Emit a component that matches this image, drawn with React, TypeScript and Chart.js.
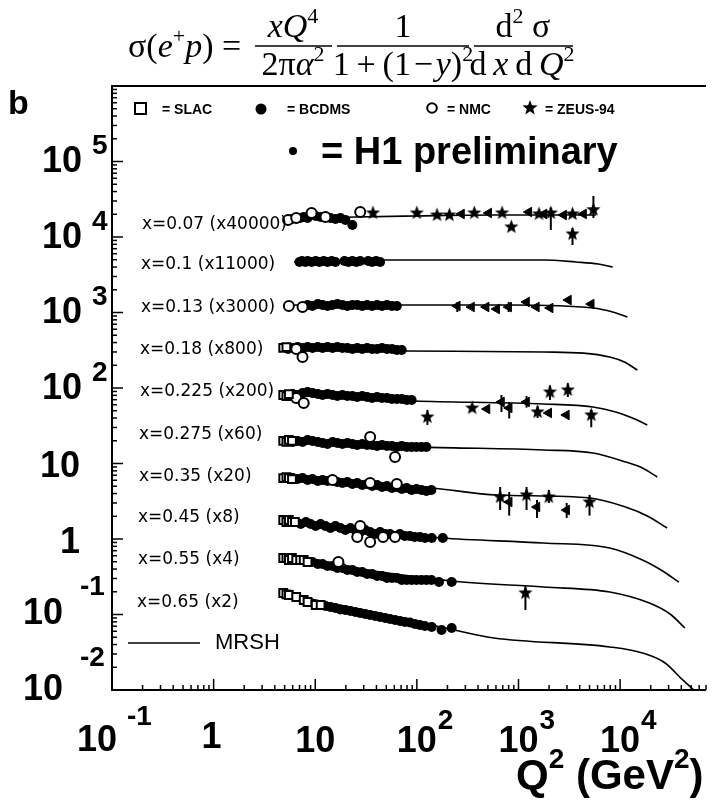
import React, { useEffect, useRef } from "react";
import { Chart, registerables } from "chart.js";
Chart.register(...registerables);

type P = [number, number];
type E = [number, number, number, number];

// ---------- data ----------
const rowLabels = [
  "x=0.07 (x40000)", "x=0.1 (x11000)", "x=0.13 (x3000)", "x=0.18 (x800)", "x=0.225 (x200)",
  "x=0.275 (x60)", "x=0.35 (x20)", "x=0.45 (x8)", "x=0.55 (x4)", "x=0.65 (x2)",
];

const mrshCurves: P[][] = [
  [[5.4, 17320], [24.8, 18400], [95, 18970], [575, 19560], [5770, 19560]],
  [[6.2, 4665], [41.6, 4955], [1760, 4955], [3690, 4665], [6100, 4390], [8450, 4010]],
  [[5.2, 1257], [65, 1257], [840, 1257], [5400, 1147], [8450, 1015], [11800, 871]],
  [[4.84, 319], [76, 309], [1760, 300], [4365, 290], [7900, 257], [11000, 221], [14800, 173]],
  [[4.84, 80.8], [95, 67.3], [1760, 61.4], [5400, 56.0], [9040, 48.1], [13200, 40.1], [18500, 32.4]],
  [[4.84, 19.9], [120, 16.5], [1760, 15.1], [5400, 13.8], [11300, 10.5], [16600, 8.72], [23200, 6.62]],
  [[4.84, 6.42], [140, 4.74], [614, 3.83], [5050, 3.49], [11300, 2.65], [18500, 2.02], [29000, 1.4]],
  [[4.84, 1.63], [175, 1.031], [1760, 0.885], [7900, 0.76], [16600, 0.527], [26200, 0.377], [37900, 0.269]],
  [[4.84, 0.56], [219, 0.278], [1760, 0.231], [7900, 0.1985], [19400, 0.1419], [31000, 0.1015], [43400, 0.0663]],
  [[4.84, 0.193], [234, 0.0623], [575, 0.0489], [7900, 0.0372], [16600, 0.0309], [27700, 0.0228], [41300, 0.0136], [53100, 0.01]],
];

const slacPts: P[] = [
  [4.84, 339], [5.2, 349],
  [4.84, 80.8], [5.2, 78.3], [5.5, 83.2],
  [4.84, 19.9], [5.2, 19.3], [5.5, 20.5], [5.9, 19.9],
  [4.84, 6.42], [5.2, 6.62], [5.5, 6.42], [5.9, 6.23],
  [4.84, 1.785], [5.2, 1.68], [5.5, 1.785], [5.9, 1.68], [6.3, 1.68],
  [4.84, 0.56], [5.2, 0.56], [5.5, 0.527], [5.9, 0.56], [6.5, 0.527], [7.1, 0.527], [7.7, 0.527], [8.4, 0.496],
  [4.84, 0.1927], [5.2, 0.185], [5.5, 0.1813], [6.5, 0.1705], [7.7, 0.1556], [8.4, 0.1464], [10.1, 0.1336], [11.3, 0.1336],
];

const bcdmsPts: P[] = [
  // x=0.07
  [5.9, 17320], [7.1, 17850], [7.7, 18400], [8.4, 17850], [10.1, 18970], [11.3, 18400], [14.1, 17850],
  [15.8, 17320], [17.7, 17850], [19.8, 16800], [23.2, 14420],
  // x=0.1
  [7.0, 4665], [7.4, 4810], [8.0, 4665], [8.4, 4810], [9.2, 4665], [10.1, 4810], [11.0, 4665], [12.1, 4810],
  [13.2, 4665], [14.5, 4810], [15.8, 4665], [19.4, 4810], [21.2, 4665], [23.2, 4810], [25.4, 4665],
  [27.7, 4810], [33.2, 4810], [36.3, 4665], [39.7, 4810], [43.5, 4665],
  // x=0.13
  [8.4, 1257], [9.4, 1219], [10.6, 1296], [11.8, 1257], [13.2, 1219], [14.8, 1257], [16.5, 1296], [18.5, 1257],
  [20.7, 1219], [23.2, 1257], [25.9, 1257], [29.0, 1219], [32.4, 1257], [36.3, 1219], [40.6, 1257],
  [45.4, 1219], [50.8, 1257], [56.8, 1219], [63.5, 1219],
  // x=0.18
  [5.4, 329], [6.0, 339], [6.7, 349], [7.5, 339], [8.4, 349], [9.4, 339], [10.6, 349], [11.8, 339], [13.2, 349],
  [14.8, 339], [16.5, 349], [18.5, 339], [20.7, 339], [23.2, 329], [25.9, 339], [29.0, 329], [32.4, 339],
  [36.3, 329], [40.6, 329], [45.4, 339], [50.8, 329], [56.8, 329], [63.5, 319], [71, 319],
  // x=0.225
  [5.4, 78.3], [6.0, 83.2], [6.7, 80.8], [7.5, 85.9], [8.4, 88.5], [9.4, 85.9], [10.6, 83.2], [11.8, 80.8],
  [13.2, 83.2], [14.8, 80.8], [16.5, 78.3], [18.5, 80.8], [20.7, 78.3], [23.2, 78.3], [25.9, 76.0], [29.0, 78.3],
  [32.4, 76.0], [36.3, 73.8], [40.6, 76.0], [45.4, 73.8], [50.8, 73.8], [56.8, 71.5], [63.5, 71.5], [71, 71.5],
  [79.4, 69.4], [88.8, 69.4],
  // x=0.275
  [6.0, 19.3], [6.7, 19.9], [7.5, 19.3], [8.4, 20.5], [9.4, 19.9], [10.6, 19.3], [11.8, 18.7], [13.2, 18.1],
  [14.8, 19.3], [16.5, 18.7], [18.5, 18.1], [20.7, 18.7], [23.2, 18.1], [25.9, 17.6], [29, 18.1], [32.4, 17.6],
  [36.3, 17.6], [40.6, 17.1], [45.4, 17.6], [50.8, 17.1], [56.8, 17.1], [63.5, 16.5], [71, 17.1], [79.4, 16.5],
  [88.8, 16.5], [99, 16.5], [111, 16.5], [124, 16.5],
  // x=0.35
  [6.0, 6.42], [6.7, 6.23], [7.5, 6.42], [8.4, 6.05], [9.4, 6.23], [10.6, 5.87], [11.8, 6.05], [13.2, 5.87],
  [16.5, 5.69], [18.5, 5.52], [20.7, 5.69], [23.2, 5.35], [25.9, 5.52], [29, 5.19], [32.4, 5.35], [36.3, 5.04],
  [40.6, 5.19], [45.4, 4.88], [50.8, 5.04], [56.8, 4.74], [63.5, 4.88], [71, 4.59], [79.4, 4.74], [88.8, 4.46],
  [99, 4.59], [111, 4.46], [124, 4.32], [139, 4.46],
  // x=0.45
  [6.5, 1.68], [7.2, 1.58], [8.1, 1.68], [9.0, 1.58], [10.1, 1.487], [11.3, 1.58], [12.6, 1.487], [14.1, 1.398],
  [15.8, 1.487], [17.7, 1.398], [19.8, 1.316], [22.2, 1.398], [24.8, 1.316], [27.7, 1.238], [31, 1.316],
  [34.7, 1.238], [38.8, 1.165], [43.5, 1.238], [48.7, 1.165], [54.4, 1.165], [61, 1.096], [68, 1.165],
  [76, 1.096], [85, 1.096], [95, 1.063], [107, 1.063], [120, 1.031], [140, 1.031], [180, 1.031],
  // x=0.55
  [9.4, 0.496], [10.6, 0.466], [11.8, 0.466], [13.2, 0.439], [14.8, 0.439], [16.5, 0.413], [18.5, 0.413],
  [20.7, 0.388], [23.2, 0.388], [25.9, 0.365], [29, 0.365], [32.4, 0.344], [36.3, 0.344], [40.6, 0.323],
  [45.4, 0.323], [50.8, 0.304], [56.8, 0.304], [63.5, 0.304], [71, 0.286], [79.4, 0.286], [88.8, 0.286],
  [99, 0.286], [111, 0.286], [124, 0.286], [139, 0.286], [165, 0.269], [220, 0.269],
  // x=0.65
  [12.6, 0.1296], [14.1, 0.1257], [15.8, 0.1219], [17.7, 0.1164], [19.8, 0.1147], [22.2, 0.1112], [24.8, 0.1079],
  [27.7, 0.1046], [31, 0.1015], [34.7, 0.0985], [38.8, 0.0955], [43.5, 0.0927], [48.7, 0.0899], [54.4, 0.0872],
  [60.9, 0.0846], [68.2, 0.082], [76.3, 0.0795], [85.4, 0.0783], [95.5, 0.0748], [107, 0.0726], [120, 0.0704],
  [140, 0.0683], [175, 0.0623], [220, 0.0663],
];

const nmcPts: P[] = [
  [5.4, 16800], [6.5, 17850], [9.2, 20800], [12.6, 18400], [27.7, 21430],
  [5.5, 1219], [7.5, 1183],
  [6.5, 329], [7.5, 257],
  [6.5, 73.8], [7.7, 63.3],
  [34.7, 22.4], [61, 12.2],
  [14.8, 6.05], [34.7, 5.52], [63.5, 5.35],
  [27.7, 1.487], [25.9, 1.063], [34.7, 0.913], [46.5, 1.063], [61, 1.063],
  [16.9, 0.496],
];

const zeusPts: P[] = [
  [37, 20800], [100, 20800], [158, 19560], [209, 19560], [367, 20800], [690, 20800], [850, 13570],
  [1590, 20180], [3400, 20180],
  [350, 54.3],
];

const zeusErrPts: E[] = [
  [2080, 20800, 12400, 24500], [3400, 10960, 7830, 13160], [5460, 23000, 17850, 34900],
  [127, 41.3, 32.4, 51.2], [1540, 48.1, 40, 58], [2040, 88.5, 69.4, 108], [3060, 94.1, 76, 116], [5200, 43.9, 30.2, 51.2],
  [660, 3.6, 2.42, 4.88], [1200, 3.83, 2.42, 4.88], [1990, 3.6, 3.0, 4.46], [5000, 3.09, 2.04, 3.83],
  [1170, 0.193, 0.1146, 0.246],
];

const h1Pts: P[] = [
  [275, 20180], [510, 20800], [1265, 21430], [1775, 20180], [2780, 19560], [4365, 20180],
  [345, 1183], [480, 1183], [610, 1112], [1200, 1377], [1500, 1183], [2050, 1147], [3100, 1462], [5200, 1296],
  [490, 52.7], [1985, 46.7], [2960, 43.9],
];

const h1ErrPts: E[] = [
  [250, 1219, 1015, 1377], [800, 1183, 1015, 1377],
  [680, 65.3, 48.1, 80.8], [810, 54.3, 39.5, 65.3], [1200, 65.3, 55, 78],
  [810, 3.09, 2.04, 4.19], [1520, 2.65, 1.9, 3.29], [2980, 2.42, 1.9, 3.0],
];

const yTickExps = [-2, -1, 0, 1, 2, 3, 4, 5];
const xTickExps = [-1, 0, 1, 2, 3, 4];
const legendTexts = ["= SLAC", "= BCDMS", "= NMC", "= ZEUS-94"];

// ---------- layout / style ----------
const W = 714;
const H = 802;
const SANS = '"Liberation Sans", Arial, Helvetica, sans-serif';
const SERIF = '"Liberation Serif", "Times New Roman", serif';
const rowLabelX = [142, 141, 141, 140, 140, 139, 139, 138, 138, 137];
const rowLabelY = [225, 265, 308, 350, 392, 435, 477, 518, 560, 603];

type Seg = [string, string, number?];

function rich(ctx: CanvasRenderingContext2D, x: number, y: number, segs: Seg[], align: "left" | "center") {
  let w = 0;
  for (const s of segs) { ctx.font = s[1]; w += ctx.measureText(s[0]).width; }
  let cx = align === "center" ? x - w / 2 : x;
  ctx.textAlign = "left";
  ctx.textBaseline = "alphabetic";
  for (const s of segs) {
    ctx.font = s[1];
    ctx.fillText(s[0], cx, y + (s[2] || 0));
    cx += ctx.measureText(s[0]).width;
  }
}

function makeStar(r: number): HTMLCanvasElement {
  const c = document.createElement("canvas");
  const s = Math.ceil(r * 2 + 2);
  c.width = s; c.height = s;
  const g = c.getContext("2d")!;
  g.fillStyle = "#000";
  g.beginPath();
  for (let i = 0; i < 10; i++) {
    const rr = i % 2 === 0 ? r : r * 0.42;
    const a = -Math.PI / 2 + (i * Math.PI) / 5;
    const px = s / 2 + rr * Math.cos(a);
    const py = s / 2 + rr * Math.sin(a);
    if (i === 0) g.moveTo(px, py); else g.lineTo(px, py);
  }
  g.closePath();
  g.fill();
  return c;
}

const decoPlugin = {
  id: "deco",
  beforeDraw(chart: any) {
    const ctx = chart.ctx;
    ctx.save();
    ctx.fillStyle = "#fff";
    ctx.fillRect(0, 0, chart.width, chart.height);
    ctx.restore();
  },
  beforeDatasetsDraw(chart: any) {
    const ctx: CanvasRenderingContext2D = chart.ctx;
    const xs = chart.scales.x, ys = chart.scales.y;
    ctx.save();
    ctx.strokeStyle = "#000";
    ctx.lineWidth = 2;
    for (const e of [...zeusErrPts, ...h1ErrPts]) {
      const px = xs.getPixelForValue(e[0]);
      ctx.beginPath();
      ctx.moveTo(px, ys.getPixelForValue(e[2]));
      ctx.lineTo(px, ys.getPixelForValue(e[3]));
      ctx.stroke();
    }
    ctx.restore();
  },
  afterDraw(chart: any) {
    const ctx: CanvasRenderingContext2D = chart.ctx;
    const a = chart.chartArea;
    const xs = chart.scales.x, ys = chart.scales.y;
    ctx.save();
    ctx.strokeStyle = "#000";
    ctx.fillStyle = "#000";
    ctx.lineCap = "butt";

    // frame (left, bottom, top)
    ctx.lineWidth = 2;
    ctx.beginPath();
    ctx.moveTo(a.right, a.top); ctx.lineTo(a.left, a.top);
    ctx.lineTo(a.left, a.bottom); ctx.lineTo(a.right, a.bottom);
    ctx.stroke();

    // ticks (inward)
    ctx.lineWidth = 1.5;
    for (let k = -1; k <= 4; k++) {
      for (let m = 1; m <= 9; m++) {
        const v = m * Math.pow(10, k);
        if (v < xs.min || v > xs.max) continue;
        const px = xs.getPixelForValue(v);
        const len = m === 1 ? 11 : 5;
        ctx.beginPath(); ctx.moveTo(px, a.bottom); ctx.lineTo(px, a.bottom - len); ctx.stroke();
      }
    }
    for (let k = -2; k <= 6; k++) {
      for (let m = 1; m <= 9; m++) {
        const v = m * Math.pow(10, k);
        if (v < ys.min || v > ys.max) continue;
        const py = ys.getPixelForValue(v);
        const len = m === 1 ? 11 : 5;
        ctx.beginPath(); ctx.moveTo(a.left, py); ctx.lineTo(a.left + len, py); ctx.stroke();
      }
    }

    // y tick labels
    const big = `bold 36px ${SANS}`;
    const sup = `bold 28px ${SANS}`;
    ctx.textBaseline = "middle";
    for (const k of yTickExps) {
      const py = ys.getPixelForValue(Math.pow(10, k));
      if (k >= 2) {
        ctx.font = big; ctx.textAlign = "right"; ctx.fillText("10", 82, py + 1);
        ctx.font = sup; ctx.textAlign = "left"; ctx.fillText(String(k), 92, py - 15);
      } else if (k === 1) {
        ctx.font = big; ctx.textAlign = "right"; ctx.fillText("10", 80, py + 4);
      } else if (k === 0) {
        ctx.font = big; ctx.textAlign = "right"; ctx.fillText("1", 80, py + 4);
      } else {
        ctx.font = big; ctx.textAlign = "right"; ctx.fillText("10", 63, py);
        ctx.font = sup; ctx.textAlign = "left"; ctx.fillText(String(k), 80, py - (k === -1 ? 27 : 32));
      }
    }

    // x tick labels
    for (const k of xTickExps) {
      const px = xs.getPixelForValue(Math.pow(10, k));
      if (k >= 2) {
        ctx.font = big; ctx.textAlign = "center"; ctx.fillText("10", px, 742);
        ctx.font = sup; ctx.textAlign = "left"; ctx.fillText(String(k), px + 21, 721);
      } else if (k === 1) {
        ctx.font = big; ctx.textAlign = "center"; ctx.fillText("10", px, 742);
      } else if (k === 0) {
        ctx.font = big; ctx.textAlign = "center"; ctx.fillText("1", px - 2, 738);
      } else {
        ctx.font = big; ctx.textAlign = "center"; ctx.fillText("10", px - 15, 741);
        ctx.font = sup; ctx.textAlign = "left"; ctx.fillText(String(k), px + 15, 717);
      }
    }

    // axis title Q^2 (GeV^2)
    const tB = `bold 42px ${SANS}`;
    const tS = `bold 28px ${SANS}`;
    rich(ctx, 516, 789, [["Q", tB], ["2", tS, -21], [" (GeV", tB], ["2", tS, -21], [")", tB]], "left");

    // "b"
    ctx.font = `bold 34px ${SANS}`;
    ctx.textAlign = "left"; ctx.textBaseline = "alphabetic";
    ctx.fillText("b", 8, 114);

    // formula
    const R = `34px ${SERIF}`;
    const I = `italic 34px ${SERIF}`;
    const S = `22px ${SERIF}`;
    rich(ctx, 128, 57, [["σ(", R], ["e", I], ["+", S, -14], ["p", I], [") =", R]], "left");
    ctx.lineWidth = 1.6;
    const bars: [number, number][] = [[255, 332], [337, 469], [474, 573]];
    for (const [x0, x1] of bars) {
      ctx.beginPath(); ctx.moveTo(x0, 46); ctx.lineTo(x1, 46); ctx.stroke();
    }
    rich(ctx, 293, 37, [["x", I], ["Q", I], ["4", S, -14]], "center");
    rich(ctx, 293, 75, [["2", R], ["π", R], ["α", I], ["2", S, -14]], "center");
    rich(ctx, 403, 37, [["1", R]], "center");
    rich(ctx, 403, 75, [["1\u2009+\u2009(1\u200a\u2212\u200a", R], ["y", I], [")", R], ["2", S, -14]], "center");
    rich(ctx, 523, 37, [["d", R], ["2", S, -14], [" σ", R]], "center");
    rich(ctx, 522, 75, [["d\u2009", R], ["x", I], ["\u2009d\u2009", R], ["Q", I], ["2", S, -14]], "center");

    // legend top
    const lf = `bold 14px ${SANS}`;
    ctx.font = lf; ctx.textBaseline = "middle"; ctx.textAlign = "left";
    ctx.lineWidth = 2;
    ctx.strokeRect(135, 103, 11, 11);
    ctx.fillText(legendTexts[0], 162, 110);
    ctx.beginPath(); ctx.arc(261, 109, 5.5, 0, Math.PI * 2); ctx.fill();
    ctx.fillText(legendTexts[1], 287, 110);
    ctx.beginPath(); ctx.arc(432, 108, 4.8, 0, Math.PI * 2); ctx.stroke();
    ctx.fillText(legendTexts[2], 447, 110);
    const st = makeStar(8);
    ctx.drawImage(st, 530 - st.width / 2, 108 - st.height / 2);
    ctx.fillText(legendTexts[3], 545, 110);

    // H1 preliminary
    ctx.beginPath(); ctx.arc(293, 151, 4, 0, Math.PI * 2); ctx.fill();
    ctx.font = `bold 38px ${SANS}`;
    ctx.textBaseline = "alphabetic";
    ctx.fillText("= H1 preliminary", 321, 164);

    // row labels
    ctx.font = `17px "DejaVu Sans", ${SANS}`;
    ctx.textBaseline = "middle";
    rowLabels.forEach((t, i) => ctx.fillText(t, rowLabelX[i], rowLabelY[i]));

    // MRSH legend
    ctx.lineWidth = 1.6;
    ctx.beginPath(); ctx.moveTo(128, 643); ctx.lineTo(200, 643); ctx.stroke();
    ctx.font = `22px ${SANS}`;
    ctx.fillText("MRSH", 215, 643);

    ctx.restore();
  },
};

export default function App() {
  const ref = useRef<HTMLCanvasElement | null>(null);
  useEffect(() => {
    if (!ref.current) return;
    const toXY = (arr: number[][]) => arr.map((p) => ({ x: p[0], y: p[1] }));
    const star = makeStar(7.5);
    const curveSets = mrshCurves.map((c) => ({
      data: toXY(c),
      showLine: true,
      borderColor: "#000",
      borderWidth: 1.6,
      pointRadius: 0,
      tension: 0.4,
      cubicInterpolationMode: "monotone",
      fill: false,
      order: 2,
    }));
    const chart = new Chart(ref.current, {
      type: "scatter",
      data: {
        datasets: [
          ...curveSets,
          {
            data: toXY(bcdmsPts), pointStyle: "circle", pointRadius: 5,
            backgroundColor: "#000", borderColor: "#000", borderWidth: 0, order: 1,
          },
          {
            data: toXY(slacPts), pointStyle: "rect", pointRadius: 5.5,
            backgroundColor: "#fff", borderColor: "#000", borderWidth: 2, order: 0,
          },
          {
            data: toXY(nmcPts), pointStyle: "circle", pointRadius: 5,
            backgroundColor: "#fff", borderColor: "#000", borderWidth: 2, order: 0,
          },
          {
            data: toXY([...zeusPts, ...zeusErrPts]), pointStyle: star, pointRadius: 7,
            backgroundColor: "#000", borderColor: "#000", order: 0,
          },
          {
            data: toXY([...h1Pts, ...h1ErrPts]), pointStyle: "triangle", rotation: -90, pointRadius: 5.5,
            backgroundColor: "#000", borderColor: "#000", borderWidth: 1, order: 0,
          },
        ] as any,
      },
      options: {
        animation: false,
        responsive: false,
        maintainAspectRatio: false,
        devicePixelRatio: 1,
        events: [],
        layout: { padding: { left: 112, right: 0, top: 86, bottom: 112 } },
        plugins: { legend: { display: false }, tooltip: { enabled: false } },
        scales: {
          x: { type: "logarithmic", min: 0.1, max: 70000, display: false },
          y: { type: "logarithmic", min: 0.01, max: 1e6, display: false },
        },
      } as any,
      plugins: [decoPlugin as any],
    });
    return () => chart.destroy();
  }, []);
  return (
    <div style={{ position: "fixed", left: 0, top: 0, width: W, height: H, background: "#fff" }}>
      <canvas ref={ref} width={W} height={H} style={{ display: "block", width: W, height: H }} />
    </div>
  );
}
